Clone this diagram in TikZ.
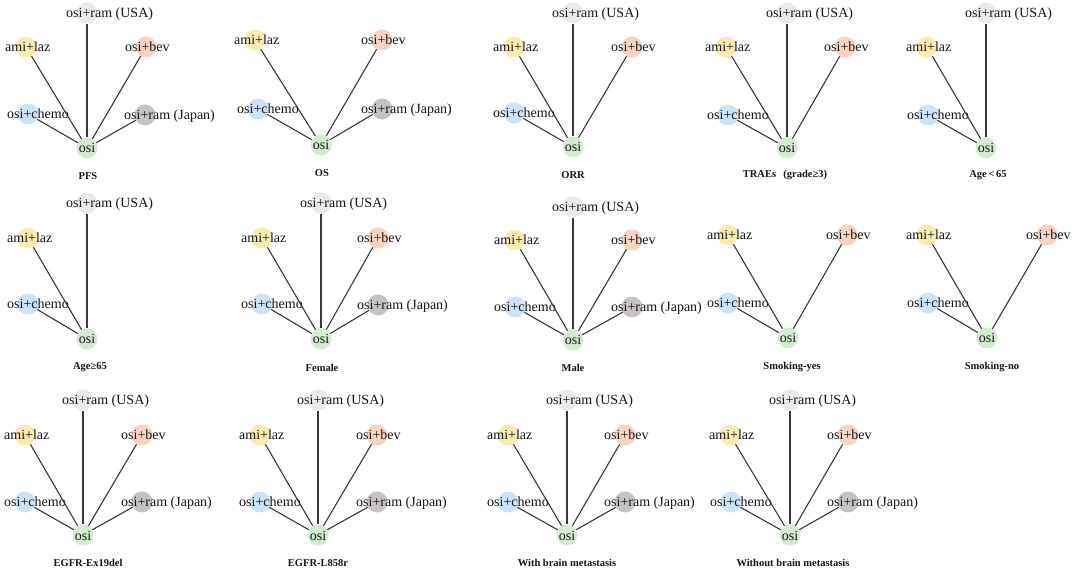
\documentclass[tikz,border=0pt]{standalone}
\usepackage{fontspec}
\setmainfont{Liberation Serif}
\definecolor{cAmi}{HTML}{FCEBB0}
\definecolor{cBev}{HTML}{FAD3C0}
\definecolor{cUsa}{HTML}{EAEAEA}
\definecolor{cChe}{HTML}{CCE2F6}
\definecolor{cJap}{HTML}{C6C2C2}
\definecolor{cOsi}{HTML}{D3ECCF}
\definecolor{cLine}{HTML}{383838}
\definecolor{cText}{HTML}{151515}
\tikzset{
  dot/.style={circle, minimum size=21pt, inner sep=0pt, draw=none},
  lbl/.style={anchor=base west, inner sep=0pt, text=cText, font=\fontsize{14}{14}\selectfont},
  edge/.style={draw=cLine, line width=1.1pt},
  ttl/.style={inner sep=0pt, text=cText, font=\bfseries\fontsize{10.5}{10.5}\selectfont},
}
\newcommand\drg[5]{%
  \node[dot, fill=#4] (#1) at (#2,#3) {};
  \node[lbl] (#1-l) at ([xshift=-21pt,yshift=-5pt]#1.center) {#5};}
\newcommand\hub[3]{%
  \node[dot, fill=cOsi] (#1-osi) at (#2,#3) {};
  \node[lbl, anchor=base] (#1-osi-l) at ([yshift=-5pt]#1-osi.center) {osi};}
\newcommand\usa[3]{\drg{#1-usa}{#2}{#3}{cUsa}{osi+ram (USA)}}
\newcommand\ami[3]{\drg{#1-ami}{#2}{#3}{cAmi}{ami+laz}}
\newcommand\bev[3]{\drg{#1-bev}{#2}{#3}{cBev}{osi+bev}}
\newcommand\che[3]{\drg{#1-che}{#2}{#3}{cChe}{osi+chemo}}
\newcommand\jap[3]{\drg{#1-jap}{#2}{#3}{cJap}{osi+ram (Japan)}}
\newcommand\spokes[2]{\foreach \t in {#2} {\draw[edge] (#1-osi) -- (#1-\t);}}
\begin{document}
\begin{tikzpicture}[x=1pt,y=-1pt]
\fill[white] (0,0) rectangle (1072,569);
\useasboundingbox (0,0) rectangle (1072,569);
% ---- Row 1 ----
% PFS
\hub{A}{87}{148}\usa{A}{87}{13}\ami{A}{26}{47}\bev{A}{146}{47}\che{A}{28}{114}\jap{A}{145}{115}
\spokes{A}{usa,ami,bev,che,jap}
\node[ttl] (A-t) at (88,176) {PFS};
% OS
\hub{B}{321}{145}\ami{B}{255}{40}\bev{B}{382}{40}\che{B}{258}{109}\jap{B}{382}{109}
\spokes{B}{ami,bev,che,jap}
\node[ttl] (B-t) at (322,173) {OS};
% ORR
\hub{C}{573}{147}\usa{C}{573}{13}\ami{C}{514}{47}\bev{C}{632}{47}\che{C}{514}{113}
\spokes{C}{usa,ami,bev,che}
\node[ttl] (C-t) at (573,175) {ORR};
% TRAEs
\hub{D}{787}{148}\usa{D}{787}{13}\ami{D}{726}{47}\bev{D}{845}{47}\che{D}{728}{115}
\spokes{D}{usa,ami,bev,che}
\node[ttl] (D-t) at (785,175) {TRAEs\hspace{0.7em}(grade≥3)};
% Age<65
\hub{E}{986}{148}\usa{E}{986}{13}\ami{E}{927}{47}\che{E}{928}{115}
\spokes{E}{usa,ami,che}
\node[ttl] (E-t) at (988,175) {Age\,<\,65};
% ---- Row 2 ----
% Age>=65
\hub{F}{87}{339}\usa{F}{87}{203}\ami{F}{28}{238}\che{F}{28}{304}
\spokes{F}{usa,ami,che}
\node[ttl] (F-t) at (90,367) {Age≥65};
% Female
\hub{G}{321}{339}\usa{G}{321}{203}\ami{G}{262}{238}\bev{G}{378}{238}\che{G}{262}{304}\jap{G}{378}{305}
\spokes{G}{usa,ami,bev,che,jap}
\node[ttl] (G-t) at (322,368) {Female};
% Male
\hub{H}{573}{340}\usa{H}{573}{207}\ami{H}{515}{240}\bev{H}{632}{240}\che{H}{515}{307}\jap{H}{632}{307}
\spokes{H}{usa,ami,bev,che,jap}
\node[ttl] (H-t) at (573,368) {Male};
% Smoking-yes
\hub{I}{788}{338}\ami{I}{728}{235}\bev{I}{847}{235}\che{I}{728}{303}
\spokes{I}{ami,bev,che}
\node[ttl] (I-t) at (792,367) {Smoking-yes};
% Smoking-no
\hub{J}{987}{338}\ami{J}{927}{235}\bev{J}{1047}{235}\che{J}{928}{303}
\spokes{J}{ami,bev,che}
\node[ttl] (J-t) at (992,367) {Smoking-no};
% ---- Row 3 ----
% EGFR-Ex19del
\hub{K}{83}{535}\usa{K}{83}{400}\ami{K}{25}{435}\bev{K}{142}{435}\che{K}{25}{502}\jap{K}{142}{502}
\spokes{K}{usa,ami,bev,che,jap}
\node[ttl] (K-t) at (88,563) {EGFR-Ex19del};
% EGFR-L858r
\hub{L}{318}{535}\usa{L}{318}{400}\ami{L}{260}{435}\bev{L}{377}{435}\che{L}{260}{502}\jap{L}{377}{502}
\spokes{L}{usa,ami,bev,che,jap}
\node[ttl] (L-t) at (318,563) {EGFR-L858r};
% With brain metastasis
\hub{M}{567}{535}\usa{M}{567}{400}\ami{M}{508}{435}\bev{M}{625}{435}\che{M}{508}{502}\jap{M}{625}{502}
\spokes{M}{usa,ami,bev,che,jap}
\node[ttl] (M-t) at (567,563) {With brain metastasis};
% Without brain metastasis
\hub{N}{790}{535}\usa{N}{790}{400}\ami{N}{730}{435}\bev{N}{848}{435}\che{N}{731}{502}\jap{N}{848}{502}
\spokes{N}{usa,ami,bev,che,jap}
\node[ttl] (N-t) at (793,563) {Without brain metastasis};
\end{tikzpicture}
\end{document}
